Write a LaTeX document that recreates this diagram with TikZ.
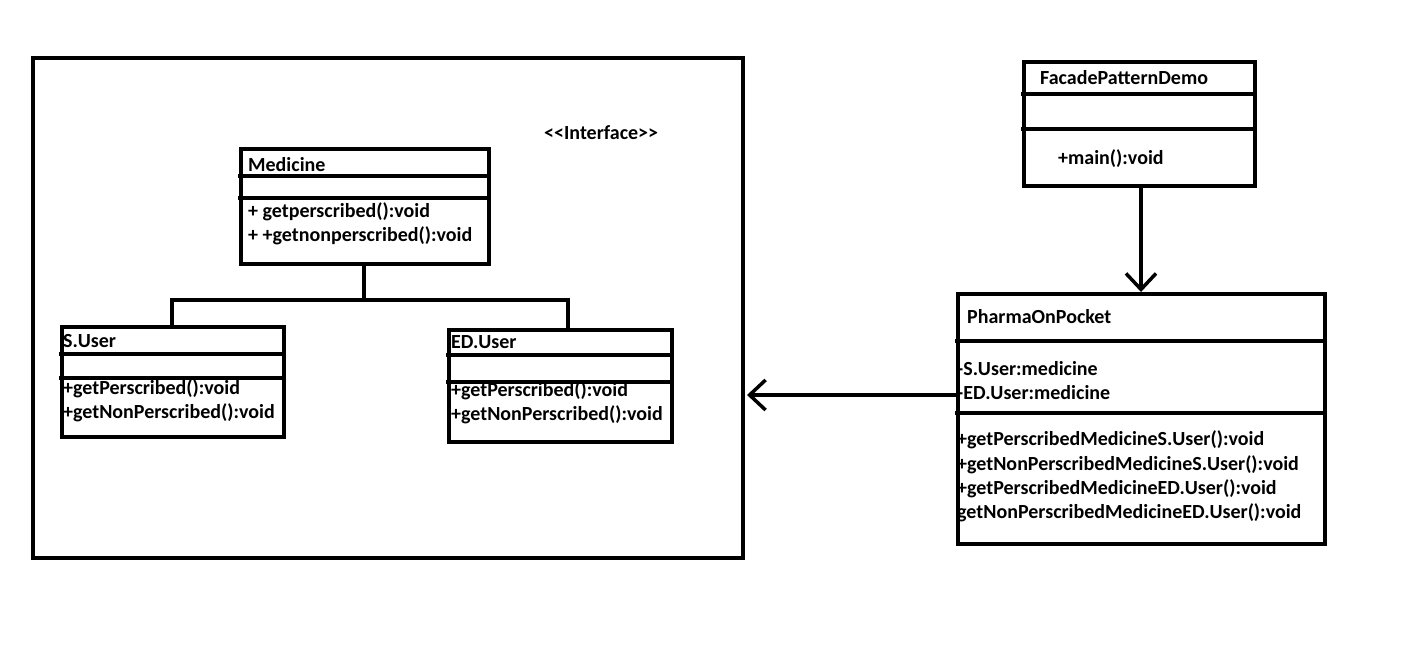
\documentclass[tikz,border=0pt]{standalone}
\usepackage{fontspec}
\setmainfont{Carlito}
\usetikzlibrary{arrows.meta}
\begin{document}
\begin{tikzpicture}[x=1pt,y=-1pt,
  box/.style={draw, line width=4pt, inner sep=0pt, anchor=north west},
  div/.style={line width=4pt},
  txt/.style={anchor=west, inner sep=0pt, font=\fontsize{20}{24}\selectfont\bfseries},
  conn/.style={line width=4pt},
  barb/.style={-{Straight Barb[length=16pt,width=30pt,line width=3.5pt]}, line width=4pt}]
\useasboundingbox (0,0) rectangle (1413,645);
% outer container
\node[box, minimum width=710pt, minimum height=500pt] (pkg) at (31,56) {};
\node[txt] (iface) at (544,133) {{<}{<}Interface{>}{>}};
% Medicine
\node[box, minimum width=248pt, minimum height=115pt] (med) at (239,147) {};
\draw[div] (238,176) -- (488,176);
\draw[div] (238,198) -- (488,198);
\node[txt] (medt) at (248,165) {Medicine};
\node[txt] (med1) at (248,212) {+ getperscribed():void};
\node[txt] (med2) at (248,236) {+ +getnonperscribed():void};
% S.User
\node[box, minimum width=222pt, minimum height=110pt] (su) at (60,325) {};
\draw[div] (59,354) -- (283,354);
\draw[div] (59,378) -- (283,378);
\node[txt] (sut) at (63,341) {S.User};
\node[txt] (su1) at (63,389) {+getPerscribed():void};
\node[txt] (su2) at (63,413) {+getNonPerscribed():void};
% ED.User
\node[box, minimum width=223pt, minimum height=112pt] (ed) at (447,328) {};
\draw[div] (446,355) -- (671,355);
\draw[div] (446,382) -- (671,382);
\node[txt] (edt) at (451,342) {ED.User};
\node[txt] (ed1) at (451,391) {+getPerscribed():void};
\node[txt] (ed2) at (451,415) {+getNonPerscribed():void};
% inheritance tree
\coordinate (j) at (364,300);
\coordinate (jl) at (172,300);
\coordinate (jr) at (568,300);
\draw[conn] (med.south -| j) -- (j);
\draw[conn] (su.north -| jl) -- (jl) -- (jr) -- (ed.north -| jr);
% FacadePatternDemo
\node[box, minimum width=231pt, minimum height=124pt] (fpd) at (1022,60) {};
\draw[div] (1021,94) -- (1254,94);
\draw[div] (1021,129) -- (1254,129);
\node[txt] (fpdt) at (1040,78) {FacadePatternDemo};
\node[txt] (fpd1) at (1058,159) {+main():void};
% PharmaOnPocket
\node[box, minimum width=367pt, minimum height=250pt] (pop) at (956,292) {};
\draw[div] (955,341) -- (1324,341);
\draw[div] (955,413) -- (1324,413);
\node[txt] (popt) at (967,317) {PharmaOnPocket};
\node[txt] (pop1) at (957,369) {-S.User:medicine};
\node[txt] (pop2) at (957,393) {-ED.User:medicine};
\node[txt] (pop3) at (957,440) {+getPerscribedMedicineS.User():void};
\node[txt] (pop4) at (957,465) {+getNonPerscribedMedicineS.User():void};
\node[txt] (pop5) at (957,489) {+getPerscribedMedicineED.User():void};
\node[txt] (pop6) at (957,513) {getNonPerscribedMedicineED.User():void};
% arrows
\coordinate (fpdb) at (1141,185);
\draw[barb] (fpdb) -- (fpdb |- pop.north);
\coordinate (pkgr) at (747,395);
\draw[barb] (pop.west |- pkgr) -- (pkgr);
\end{tikzpicture}
\end{document}
